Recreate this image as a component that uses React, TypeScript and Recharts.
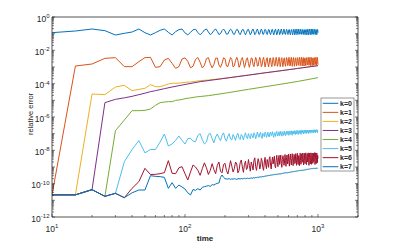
import React from 'react';
import { LineChart, Line, XAxis, YAxis } from 'recharts';

// time grid shared by the oscillating series (t = 10 ... 1000, step 5)
const time = [
  10, 15, 20, 25, 30, 35, 40, 45, 50, 55, 60, 65, 70, 75, 80, 85, 90, 95, 100, 105,
  110, 115, 120, 125, 130, 135, 140, 145, 150, 155, 160, 165, 170, 175, 180, 185, 190, 195, 200, 205,
  210, 215, 220, 225, 230, 235, 240, 245, 250, 255, 260, 265, 270, 275, 280, 285, 290, 295, 300, 305,
  310, 315, 320, 325, 330, 335, 340, 345, 350, 355, 360, 365, 370, 375, 380, 385, 390, 395, 400, 405,
  410, 415, 420, 425, 430, 435, 440, 445, 450, 455, 460, 465, 470, 475, 480, 485, 490, 495, 500, 505,
  510, 515, 520, 525, 530, 535, 540, 545, 550, 555, 560, 565, 570, 575, 580, 585, 590, 595, 600, 605,
  610, 615, 620, 625, 630, 635, 640, 645, 650, 655, 660, 665, 670, 675, 680, 685, 690, 695, 700, 705,
  710, 715, 720, 725, 730, 735, 740, 745, 750, 755, 760, 765, 770, 775, 780, 785, 790, 795, 800, 805,
  810, 815, 820, 825, 830, 835, 840, 845, 850, 855, 860, 865, 870, 875, 880, 885, 890, 895, 900, 905,
  910, 915, 920, 925, 930, 935, 940, 945, 950, 955, 960, 965, 970, 975, 980, 985, 990, 995, 1000,
];

// relative error, stored as log10 exponents (10^e)
const errK0 = [
  -0.94, -0.84, -0.72, -0.82, -1.08, -0.98, -0.9, -0.72, -0.94, -1.08, -0.94, -0.8, -0.72, -0.92, -1.08, -0.88, -0.76, -0.72, -0.95, -1.07,
  -0.92, -0.77, -0.73, -0.93, -1.07, -0.94, -0.78, -0.72, -0.9, -1.06, -0.97, -0.8, -0.72, -0.87, -1.05, -1.0, -0.82, -0.72, -0.84, -1.03,
  -1.02, -0.85, -0.73, -0.8, -1.0, -1.05, -0.88, -0.74, -0.78, -0.97, -1.06, -0.91, -0.75, -0.76, -0.94, -1.07, -0.94, -0.77, -0.74, -0.91,
  -1.07, -0.97, -0.79, -0.72, -0.88, -1.06, -0.99, -0.82, -0.72, -0.85, -1.05, -1.02, -0.84, -0.73, -0.82, -1.03, -1.04, -0.87, -0.74, -0.79,
  -1.0, -1.05, -0.9, -0.75, -0.77, -0.97, -1.06, -0.93, -0.76, -0.75, -0.94, -1.07, -0.95, -0.78, -0.73, -0.91, -1.07, -0.98, -0.8, -0.72,
  -0.88, -1.06, -1.0, -0.82, -0.72, -0.85, -1.05, -1.02, -0.85, -0.73, -0.82, -1.03, -1.04, -0.88, -0.74, -0.79, -1.0, -1.05, -0.9, -0.75,
  -0.77, -0.97, -1.06, -0.93, -0.76, -0.75, -0.94, -1.07, -0.95, -0.78, -0.73, -0.91, -1.07, -0.98, -0.8, -0.72, -0.88, -1.06, -1.0, -0.82,
  -0.72, -0.85, -1.05, -1.02, -0.85, -0.73, -0.82, -1.03, -1.04, -0.87, -0.74, -0.79, -1.0, -1.05, -0.9, -0.75, -0.77, -0.97, -1.06, -0.93,
  -0.76, -0.75, -0.94, -1.07, -0.95, -0.78, -0.73, -0.91, -1.07, -0.98, -0.8, -0.72, -0.88, -1.06, -1.0, -0.82, -0.72, -0.85, -1.05, -1.02,
  -0.85, -0.73, -0.82, -1.03, -1.04, -0.87, -0.74, -0.79, -1.0, -1.05, -0.9, -0.75, -0.77, -0.97, -1.06, -0.93, -0.76, -0.75, -0.94,
];

const errK1 = [
  -10.67, -2.94, -2.82, -2.48, -2.44, -2.98, -2.98, -2.68, -2.44, -2.42, -3.02, -2.98, -2.58, -2.48, -2.78, -3.08, -2.98, -2.52, -2.45, -2.66,
  -3.05, -2.95, -2.55, -2.43, -2.72, -3.06, -2.9, -2.5, -2.44, -2.8, -3.05, -2.85, -2.47, -2.46, -2.88, -3.02, -2.78, -2.45, -2.5, -2.94,
  -2.98, -2.7, -2.43, -2.55, -3.0, -2.93, -2.62, -2.42, -2.62, -3.02, -2.88, -2.55, -2.43, -2.7, -3.03, -2.82, -2.5, -2.45, -2.78, -3.02,
  -2.76, -2.46, -2.48, -2.86, -2.98, -2.68, -2.43, -2.54, -2.94, -2.94, -2.62, -2.42, -2.6, -2.98, -2.88, -2.55, -2.42, -2.68, -3.0, -2.82,
  -2.5, -2.44, -2.76, -3.0, -2.76, -2.46, -2.47, -2.84, -2.98, -2.7, -2.43, -2.52, -2.92, -2.94, -2.63, -2.42, -2.58, -2.96, -2.88, -2.56,
  -2.42, -2.66, -2.98, -2.82, -2.5, -2.44, -2.74, -2.98, -2.76, -2.47, -2.46, -2.82, -2.96, -2.7, -2.43, -2.5, -2.9, -2.92, -2.64, -2.42,
  -2.56, -2.94, -2.88, -2.57, -2.42, -2.64, -2.96, -2.82, -2.51, -2.43, -2.72, -2.96, -2.76, -2.47, -2.45, -2.8, -2.94, -2.7, -2.44, -2.49,
  -2.87, -2.9, -2.63, -2.42, -2.55, -2.92, -2.86, -2.57, -2.42, -2.62, -2.94, -2.8, -2.51, -2.43, -2.7, -2.94, -2.75, -2.47, -2.45, -2.78,
  -2.92, -2.69, -2.44, -2.48, -2.85, -2.88, -2.62, -2.42, -2.54, -2.9, -2.84, -2.56, -2.42, -2.6, -2.92, -2.79, -2.5, -2.43, -2.68, -2.92,
  -2.74, -2.46, -2.45, -2.76, -2.9, -2.68, -2.44, -2.48, -2.84, -2.86, -2.61, -2.42, -2.53, -2.88, -2.82, -2.55, -2.42, -2.6, -2.86,
];

const errK5 = [
  -10.67, -10.67, -10.36, -10.76, -10.58, -8.68, -7.95, -7.42, -8.15, -7.95, -7.95, -7.5, -7.02, -7.74, -7.62, -7.4, -7.14, -7.4, -7.62, -7.3,
  -7.28, -7.45, -7.48, -7.1, -7.0, -7.35, -7.62, -7.5, -7.05, -6.98, -7.3, -7.55, -7.2, -7.02, -7.25, -7.42, -7.1, -6.95, -7.3, -7.45,
  -7.15, -7.0, -7.32, -7.38, -7.05, -7.2, -7.4, -7.1, -6.98, -7.28, -7.35, -7.05, -7.15, -7.38, -7.12, -6.95, -7.22, -7.3, -7.0, -7.18,
  -7.3, -7.0, -7.12, -7.25, -6.95, -7.05, -7.3, -7.15, -6.9, -7.08, -7.22, -7.02, -6.92, -7.2, -7.28, -6.98, -7.05, -7.18, -6.9, -7.0,
  -7.22, -7.1, -6.92, -7.15, -7.2, -6.96, -6.9, -7.12, -7.04, -6.88, -7.1, -7.22, -6.95, -6.98, -7.16, -6.9, -6.86, -7.08, -7.14, -6.92,
  -6.88, -7.12, -7.02, -6.86, -7.0, -7.15, -6.92, -6.88, -7.1, -6.98, -6.84, -7.05, -7.12, -6.9, -6.86, -7.06, -7.0, -6.84, -6.95, -7.1,
  -6.92, -6.84, -7.04, -6.98, -6.83, -6.96, -7.1, -6.9, -6.84, -7.02, -6.95, -6.82, -6.98, -7.06, -6.88, -6.82, -7.0, -6.94, -6.81, -6.95,
  -7.05, -6.86, -6.82, -6.98, -6.93, -6.8, -6.9, -7.04, -6.88, -6.8, -6.96, -6.9, -6.8, -6.92, -7.02, -6.85, -6.79, -6.95, -6.9, -6.79,
  -6.88, -7.0, -6.84, -6.79, -6.94, -6.88, -6.78, -6.86, -6.99, -6.83, -6.78, -6.92, -6.87, -6.78, -6.85, -6.97, -6.82, -6.78, -6.9, -6.86,
  -6.78, -6.84, -6.96, -6.81, -6.77, -6.9, -6.86, -6.77, -6.83, -6.95, -6.8, -6.77, -6.88, -6.84, -6.76, -6.82, -6.94, -6.8, -6.8,
];

const errK6 = [
  -10.67, -10.67, -10.36, -10.76, -10.58, -10.84, -10.28, -9.88, -9.08, -9.45, -9.44, -9.4, -9.34, -8.62, -9.38, -9.4, -9.05, -8.98, -9.4, -9.78,
  -9.3, -8.88, -9.0, -9.2, -9.5, -9.1, -8.75, -9.05, -9.45, -9.2, -8.8, -9.15, -9.4, -8.9, -8.7, -9.25, -9.35, -8.85, -8.78, -9.2,
  -9.42, -9.05, -8.62, -8.95, -9.3, -9.1, -8.7, -8.82, -9.35, -9.2, -8.75, -8.58, -9.0, -9.32, -8.85, -8.65, -9.15, -9.05, -8.55, -8.9,
  -9.25, -8.7, -8.9, -9.18, -8.6, -8.45, -8.98, -9.2, -8.82, -8.5, -8.7, -9.12, -8.95, -8.48, -8.62, -9.05, -9.2, -8.7, -8.42, -8.88,
  -9.1, -8.55, -8.75, -9.02, -8.5, -8.38, -8.9, -9.12, -8.66, -8.4, -8.82, -8.58, -8.35, -8.95, -9.05, -8.6, -8.3, -8.72, -8.98, -8.45,
  -8.3, -8.85, -8.62, -8.28, -8.78, -9.02, -8.55, -8.32, -8.48, -8.9, -8.7, -8.25, -8.6, -8.96, -8.44, -8.28, -8.82, -8.58, -8.22, -8.74,
  -8.95, -8.4, -8.22, -8.62, -8.88, -8.5, -8.2, -8.45, -8.92, -8.65, -8.24, -8.3, -8.8, -8.7, -8.2, -8.52, -8.9, -8.36, -8.18, -8.7,
  -8.85, -8.32, -8.5, -8.92, -8.42, -8.17, -8.6, -8.84, -8.4, -8.2, -8.72, -8.55, -8.16, -8.48, -8.88, -8.5, -8.18, -8.62, -8.8, -8.3,
  -8.15, -8.58, -8.86, -8.38, -8.2, -8.7, -8.5, -8.15, -8.44, -8.9, -8.55, -8.16, -8.35, -8.82, -8.62, -8.15, -8.5, -8.84, -8.4, -8.16,
  -8.6, -8.78, -8.3, -8.18, -8.68, -8.5, -8.14, -8.42, -8.85, -8.55, -8.15, -8.38, -8.8, -8.6, -8.16, -8.48, -8.74, -8.3, -8.5,
];

const errK7 = [
  -10.67, -10.67, -10.36, -10.76, -10.58, -10.84, -10.55, -10.38, -10.38, -9.52, -9.56, -9.58, -9.62, -10.28, -9.94, -10.28, -10.08, -10.2, -10.32, -10.55,
  -10.68, -10.35, -10.4, -10.3, -10.38, -10.22, -10.18, -10.15, -10.12, -10.16, -10.06, -10.08, -10.02, -9.98, -9.96, -9.62, -9.48, -9.62, -9.7, -9.72,
  -9.72, -9.7, -9.74, -9.71, -9.73, -9.7, -9.72, -9.74, -9.71, -9.7, -9.72, -9.69, -9.71, -9.7, -9.68, -9.7, -9.69, -9.67, -9.69, -9.68,
  -9.67, -9.66, -9.68, -9.65, -9.64, -9.66, -9.63, -9.64, -9.62, -9.61, -9.62, -9.6, -9.59, -9.6, -9.58, -9.57, -9.58, -9.56, -9.55, -9.54,
  -9.54, -9.52, -9.53, -9.51, -9.5, -9.51, -9.49, -9.48, -9.49, -9.47, -9.46, -9.47, -9.45, -9.45, -9.44, -9.44, -9.45, -9.43, -9.43, -9.42,
  -9.42, -9.41, -9.42, -9.4, -9.39, -9.4, -9.38, -9.38, -9.37, -9.38, -9.36, -9.36, -9.35, -9.36, -9.34, -9.34, -9.35, -9.33, -9.33, -9.32,
  -9.32, -9.33, -9.31, -9.3, -9.31, -9.29, -9.29, -9.28, -9.29, -9.27, -9.27, -9.28, -9.26, -9.26, -9.25, -9.26, -9.24, -9.24, -9.25, -9.23,
  -9.23, -9.22, -9.23, -9.21, -9.21, -9.22, -9.2, -9.2, -9.21, -9.19, -9.19, -9.2, -9.18, -9.18, -9.19, -9.17, -9.17, -9.18, -9.16, -9.16,
  -9.17, -9.15, -9.15, -9.16, -9.14, -9.14, -9.15, -9.13, -9.13, -9.14, -9.12, -9.12, -9.13, -9.11, -9.11, -9.12, -9.1, -9.1, -9.11, -9.1,
  -9.09, -9.1, -9.09, -9.08, -9.09, -9.08, -9.08, -9.09, -9.07, -9.08, -9.08, -9.07, -9.08, -9.07, -9.07, -9.08, -9.06, -9.07, -9.07,
];

// smoother series, sampled more sparsely
const timeK2 = [10, 15, 20, 25, 30, 35, 40, 45, 50, 55, 60, 65, 70, 75, 80, 90, 100, 110, 120, 130, 150, 200, 300, 400, 500, 700, 1000];
const errK2 = [-10.67, -10.67, -4.62, -4.66, -4.2, -4.1, -4.42, -4.34, -4.28, -4.06, -4.18, -4.18, -4.1, -4.02, -3.98, -3.97, -3.92, -3.9, -3.86, -3.82, -3.78, -3.67, -3.48, -3.345, -3.245, -3.085, -2.915];

const timeK3 = [10, 15, 20, 25, 30, 35, 40, 45, 50, 55, 60, 70, 80, 100, 130, 200, 300, 400, 500, 700, 1000];
const errK3 = [-10.67, -10.67, -10.36, -5.14, -4.94, -4.85, -4.76, -4.66, -4.57, -4.48, -4.42, -4.3, -4.2, -4.05, -3.88, -3.68, -3.49, -3.35, -3.25, -3.09, -2.92];

const timeK4 = [10, 15, 20, 25, 30, 35, 40, 45, 50, 55, 60, 65, 70, 75, 80, 85, 90, 95, 100, 110, 120, 130, 150, 200, 300, 500, 700, 1000];
const errK4 = [-10.67, -10.67, -10.36, -10.76, -6.82, -6.18, -5.62, -5.62, -5.6, -5.52, -5.3, -5.14, -5.1, -5.08, -5.08, -5.0, -4.98, -4.95, -4.9, -4.85, -4.8, -4.77, -4.72, -4.57, -4.34, -4.06, -3.87, -3.64];

const labels = ['k=0', 'k=1', 'k=2', 'k=3', 'k=4', 'k=5', 'k=6', 'k=7'];
const colors = ['#0072BD', '#D95319', '#EDB120', '#7E2F8E', '#77AC30', '#4DBEEE', '#A2142F', '#0072BD'];

const xMajor = [10, 100, 1000];
const yDecadeExps = [-12, -11, -10, -9, -8, -7, -6, -5, -4, -3, -2, -1, 0];

const toPoints = (ts: number[], es: number[]) => ts.map((t, i) => ({ t, v: Math.pow(10, es[i]) }));

const series = [
  toPoints(time, errK0),
  toPoints(time, errK1),
  toPoints(timeK2, errK2),
  toPoints(timeK3, errK3),
  toPoints(timeK4, errK4),
  toPoints(time, errK5),
  toPoints(time, errK6),
  toPoints(time, errK7),
];

// tick positions: powers of ten plus the 2..9 minor ticks
const xTicks: number[] = [];
xMajor.forEach((d) => {
  xTicks.push(d);
  for (let m = 2; m <= 9; m++) if (m * d <= 2000) xTicks.push(m * d);
});
const yTicks: number[] = [];
yDecadeExps.forEach((e) => {
  yTicks.push(Math.pow(10, e));
  if (e < 0) for (let m = 2; m <= 9; m++) yTicks.push(m * Math.pow(10, e));
});

const FONT = '"Liberation Sans", Arial, Helvetica, sans-serif';
const AX = '#262626';
const expOf = (v: number) => Math.round(Math.log10(v));
const isPow10 = (v: number) => Math.abs(Math.log10(v) - expOf(v)) < 1e-6;

const BottomTick = (p: any) => {
  const v = p.payload.value;
  const major = isPow10(v);
  return (
    <g>
      <line x1={p.x} x2={p.x} y1={p.y} y2={p.y - (major ? 3 : 2)} stroke={AX} strokeWidth={0.6} />
      {major && (
        <text x={p.x} y={p.y + 14.5} textAnchor="middle" fontSize={8.5} fill={AX} fontFamily={FONT}>
          10<tspan dy={-3.5} fontSize={6}>{expOf(v)}</tspan>
        </text>
      )}
    </g>
  );
};

const TopTick = (p: any) => {
  const major = isPow10(p.payload.value);
  return <line x1={p.x} x2={p.x} y1={p.y} y2={p.y + (major ? 3 : 2)} stroke={AX} strokeWidth={0.6} />;
};

const LeftTick = (p: any) => {
  const v = p.payload.value;
  const major = isPow10(v);
  const e = expOf(v);
  return (
    <g>
      <line x1={p.x} x2={p.x + (major ? 3 : 2)} y1={p.y} y2={p.y} stroke={AX} strokeWidth={0.6} />
      {major && e % 2 === 0 && (
        <text x={p.x - 2.5} y={p.y + 4.5} textAnchor="end" fontSize={8.5} fill={AX} fontFamily={FONT}>
          10<tspan dy={-3.5} fontSize={6}>{e}</tspan>
        </text>
      )}
    </g>
  );
};

const RightTick = (p: any) => {
  const major = isPow10(p.payload.value);
  return <line x1={p.x} x2={p.x - (major ? 3 : 2)} y1={p.y} y2={p.y} stroke={AX} strokeWidth={0.6} />;
};

const axisLine = { stroke: AX, strokeWidth: 0.8 };

export default function App() {
  return (
    <div style={{ position: 'absolute', left: 0, top: 0, width: 397, height: 245, background: '#fff' }}>
      <LineChart width={397} height={245} margin={{ top: 16, right: 38, bottom: 27, left: 51 }}>
        <XAxis
          xAxisId="bottom"
          dataKey="t"
          type="number"
          scale="log"
          domain={[10, 2000]}
          allowDataOverflow
          ticks={xTicks}
          interval={0}
          tick={BottomTick}
          tickLine={false}
          tickSize={0}
          tickMargin={0}
          height={1}
          axisLine={axisLine}
        />
        <XAxis
          xAxisId="top"
          orientation="top"
          type="number"
          scale="log"
          domain={[10, 2000]}
          allowDataOverflow
          ticks={xTicks}
          interval={0}
          tick={TopTick}
          tickLine={false}
          tickSize={0}
          tickMargin={0}
          height={1}
          axisLine={axisLine}
        />
        <YAxis
          yAxisId="left"
          type="number"
          scale="log"
          domain={[1e-12, 1]}
          allowDataOverflow
          ticks={yTicks}
          interval={0}
          tick={LeftTick}
          tickLine={false}
          tickSize={0}
          tickMargin={0}
          width={1}
          axisLine={axisLine}
        />
        <YAxis
          yAxisId="right"
          orientation="right"
          type="number"
          scale="log"
          domain={[1e-12, 1]}
          allowDataOverflow
          ticks={yTicks}
          interval={0}
          tick={RightTick}
          tickLine={false}
          tickSize={0}
          tickMargin={0}
          width={1}
          axisLine={axisLine}
        />
        {series.map((d, i) => (
          <Line
            key={labels[i]}
            xAxisId="bottom"
            yAxisId="left"
            data={d}
            dataKey="v"
            name={labels[i]}
            type="linear"
            stroke={colors[i]}
            strokeWidth={1}
            dot={false}
            isAnimationActive={false}
          />
        ))}
      </LineChart>
      <svg width={397} height={245} style={{ position: 'absolute', left: 0, top: 0, pointerEvents: 'none' }}>
        <text x={205} y={240.5} textAnchor="middle" fontSize={8} fontWeight="bold" fill={AX} fontFamily={FONT}>
          time
        </text>
        <text
          x={0}
          y={0}
          transform="translate(32.5,114) rotate(-90)"
          textAnchor="middle"
          fontSize={7.5}
          fill={AX}
          fontFamily={FONT}
        >
          relative error
        </text>
        <rect x={321} y={98} width={33} height={73} fill="#fff" stroke="#6b6b6b" strokeWidth={0.7} />
        {labels.map((lab, i) => (
          <g key={lab}>
            <line x1={322.7} x2={338.3} y1={103.3 + i * 9.06} y2={103.3 + i * 9.06} stroke={colors[i]} strokeWidth={1} />
            <text x={340} y={105.8 + i * 9.06} fontSize={7} fontWeight="bold" fill={AX} fontFamily={FONT}>
              {lab}
            </text>
          </g>
        ))}
      </svg>
    </div>
  );
}
